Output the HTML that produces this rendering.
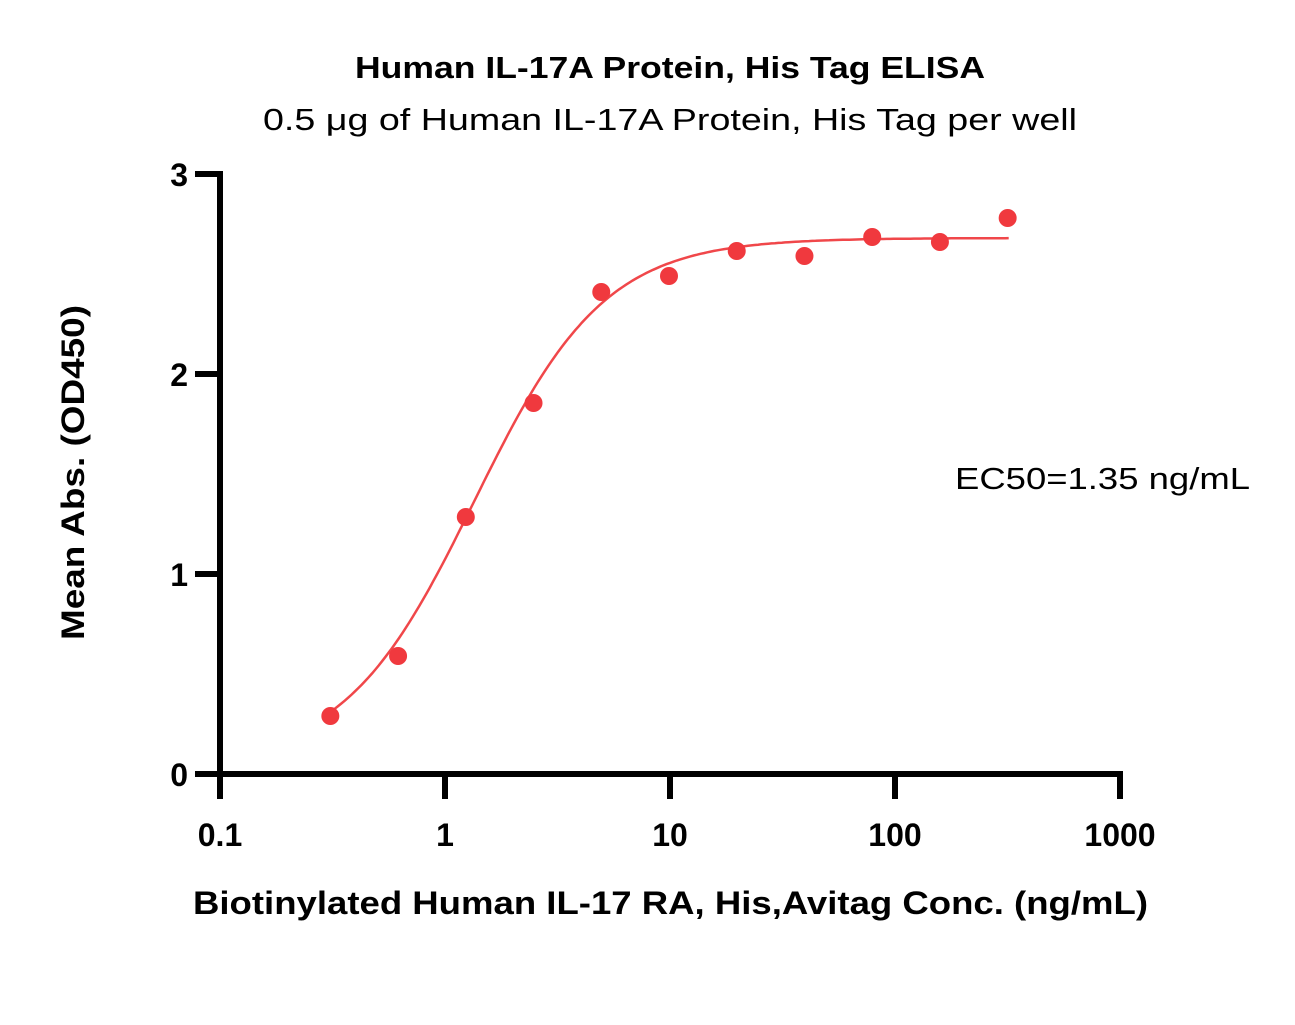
<!DOCTYPE html>
<html><head><meta charset="utf-8"><style>
body{margin:0;background:#fff;}
svg text{font-family:"Liberation Sans",sans-serif;}
</style></head><body>
<svg id="chart" width="1295" height="1020" viewBox="0 0 1295 1020" xmlns="http://www.w3.org/2000/svg">
<text x="355" y="78" textLength="630" lengthAdjust="spacingAndGlyphs" font-size="31" font-weight="bold">Human IL-17A Protein, His Tag ELISA</text>
<text x="263" y="130" textLength="814" lengthAdjust="spacingAndGlyphs" font-size="31">0.5 μg of Human IL-17A Protein, His Tag per well</text>
<text transform="translate(84,640) rotate(-90)" textLength="335" lengthAdjust="spacingAndGlyphs" font-size="32" font-weight="bold">Mean Abs. (OD450)</text>
<text x="193" y="914" textLength="955" lengthAdjust="spacingAndGlyphs" font-size="32" font-weight="bold">Biotinylated Human IL-17 RA, His,Avitag Conc. (ng/mL)</text>
<text x="955" y="489" textLength="295" lengthAdjust="spacingAndGlyphs" font-size="31">EC50=1.35 ng/mL</text>
<g id="axes"></g>
<g id="marks"></g>
</svg>
<script>
const concentrations=[0.3125,0.625,1.25,2.5,5,10,20,40,80,160,320];
const absorbances=[0.29,0.59,1.285,1.855,2.41,2.49,2.615,2.59,2.685,2.66,2.78];
const xTicks=[0.1,1,10,100,1000];
const xTickLabels=["0.1","1","10","100","1000"];
const yTicks=[0,1,2,3];
const yTickLabels=["0","1","2","3"];
const fitBottom=0.05, fitTop=2.68, fitEC50=1.35, fitHill=1.5;

const NS="http://www.w3.org/2000/svg";
const x=v=>220+(Math.log10(v)+1)*225;
const y=v=>774-v*200;
const axes=document.getElementById('axes'), marks=document.getElementById('marks');
function mk(tag,attrs,parent){const e=document.createElementNS(NS,tag);for(const k in attrs)e.setAttribute(k,attrs[k]);parent.appendChild(e);return e;}

let l=mk('line',{x1:220,y1:171,x2:220,y2:798,stroke:'#000','stroke-width':6},axes);


l=mk('line',{x1:195,y1:774,x2:1123,y2:774,stroke:'#000','stroke-width':6},axes);


yTicks.forEach((t,i)=>{
  const tk=mk('line',{x1:195,y1:y(t),x2:220,y2:y(t),stroke:'#000','stroke-width':6},axes);
  
  
  const tx=mk('text',{x:188,y:y(t)+12,'text-anchor':'end','font-size':32,'font-weight':'bold'},axes);
  tx.textContent=yTickLabels[i];
  
  
});
xTicks.forEach((t,i)=>{
  const tk=mk('line',{x1:x(t),y1:774,x2:x(t),y2:799,stroke:'#000','stroke-width':6},axes);
  
  
  const tx=mk('text',{x:x(t),y:846,'text-anchor':'middle','font-size':32,'font-weight':'bold'},axes);
  tx.textContent=xTickLabels[i];
  
  
});
const fit=c=>fitBottom+(fitTop-fitBottom)/(1+Math.pow(fitEC50/c,fitHill));
let d='';
const lo=Math.log10(concentrations[0]),hi=Math.log10(concentrations[concentrations.length-1]);
for(let i=0;i<=200;i++){const c=Math.pow(10,lo+(hi-lo)*i/200);d+=(i?'L':'M')+x(c).toFixed(1)+','+y(fit(c)).toFixed(1);}
const p=mk('path',{d:d,fill:'none',stroke:'#f0474a','stroke-width':2.5},marks);


concentrations.forEach((c,i)=>{
  const pt=mk('circle',{cx:x(c)-1,cy:y(absorbances[i]),r:9,fill:'#f0393e'},marks);
  
  
});
</script>
</body></html>
